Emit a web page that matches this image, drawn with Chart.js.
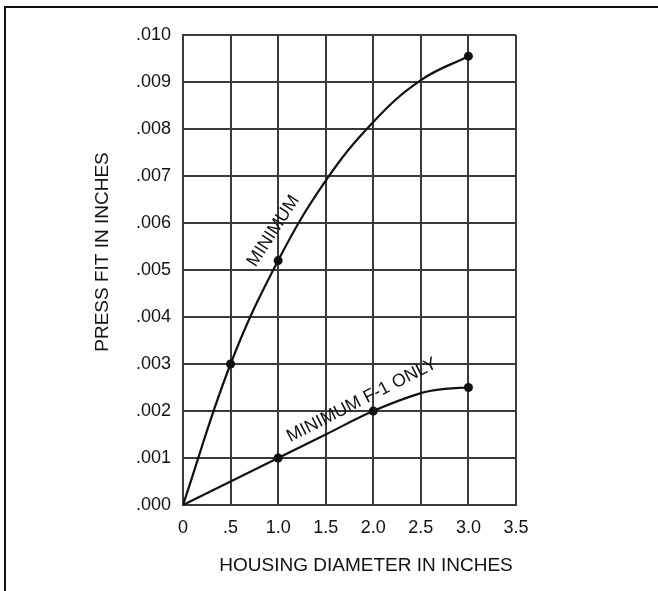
<!DOCTYPE html>
<html>
<head>
<meta charset="utf-8">
<script src="https://cdn.jsdelivr.net/npm/chart.js@4"></script>
<style>
  html, body { margin: 0; padding: 0; background: #fff; }
  #wrap { position: relative; width: 658px; height: 591px; }
  #frame { position: absolute; left: 4px; top: 6px; right: 0; bottom: 0;
           border-left: 2px solid #111; border-top: 2px solid #111; pointer-events: none; }
  canvas { position: absolute; left: 0; top: 0; }
</style>
</head>
<body>
<div id="wrap">
  <canvas id="pressFit" width="658" height="591"></canvas>
  <div id="frame"></div>
</div>
<script>
// tick labels, kept as in the drawing
const xTickValues = [0, 0.5, 1.0, 1.5, 2.0, 2.5, 3.0, 3.5];
const xTickLabels = ['0', '.5', '1.0', '1.5', '2.0', '2.5', '3.0', '3.5'];
const yTickValues = [0, 0.001, 0.002, 0.003, 0.004, 0.005, 0.006, 0.007, 0.008, 0.009, 0.010];
const yTickLabels = ['.000', '.001', '.002', '.003', '.004', '.005', '.006', '.007', '.008', '.009', '.010'];

// "MINIMUM" curve
const minimumX = [0, 0.5, 1.0, 1.5, 2.0, 2.5, 3.0];
const minimumY = [0, 0.003, 0.0052, 0.0069, 0.00815, 0.00904, 0.00955];
const minimumDotX = [0.5, 1.0, 3.0];
const minimumDotY = [0.003, 0.0052, 0.00955];

// "MINIMUM F-1 ONLY" curve
const f1OnlyX = [0, 0.5, 1.0, 1.5, 2.0, 2.5, 2.75, 3.0];
const f1OnlyY = [0, 0.0005, 0.001, 0.0015, 0.002, 0.00238, 0.00247, 0.0025];
const f1OnlyDotX = [1.0, 2.0, 3.0];
const f1OnlyDotY = [0.001, 0.002, 0.0025];

const ink = '#111';
const gridInk = '#3a3a3a';
const fontFamily = "'Liberation Sans', Arial, sans-serif";

function pts(xs, ys) {
    return xs.map((x, i) => ({ x: x, y: ys[i] }));
}

function curve(xs, ys) {
    return {
        data: pts(xs, ys),
        showLine: true,
        borderColor: ink,
        borderWidth: 2.2,
        pointRadius: 0,
        tension: 0.4,
        fill: false
    };
}

function dots(xs, ys) {
    return {
        data: pts(xs, ys),
        showLine: false,
        pointRadius: 4.5,
        pointBackgroundColor: ink,
        pointBorderColor: ink,
        pointBorderWidth: 0
    };
}

// titles and the labels written along the curves
const textPlugin = {
    id: 'textPlugin',
    afterDatasetsDraw(chart) {
        const ctx = chart.ctx;
        const xs = chart.scales.x, ys = chart.scales.y;
        ctx.save();
        ctx.fillStyle = ink;
        ctx.textAlign = 'center';
        ctx.textBaseline = 'middle';

        ctx.font = '19px ' + fontFamily;
        ctx.fillText('HOUSING DIAMETER IN INCHES', 366, 566);

        ctx.save();
        ctx.translate(103, 252);
        ctx.rotate(-Math.PI / 2);
        ctx.fillText('PRESS FIT IN INCHES', 0, 0);
        ctx.restore();

        ctx.font = '18px ' + fontFamily;
        ctx.save();
        ctx.translate(xs.getPixelForValue(0.95), ys.getPixelForValue(0.00583));
        ctx.rotate(-57 * Math.PI / 180);
        ctx.fillText('MINIMUM', 0, 0);
        ctx.restore();

        ctx.save();
        ctx.translate(xs.getPixelForValue(1.88), ys.getPixelForValue(0.00223));
        ctx.rotate(-27 * Math.PI / 180);
        ctx.fillText('MINIMUM F-1 ONLY', 0, 0);
        ctx.restore();

        ctx.restore();
    }
};

new Chart(document.getElementById('pressFit'), {
    type: 'scatter',
    data: {
        datasets: [
            curve(minimumX, minimumY),
            curve(f1OnlyX, f1OnlyY),
            dots(minimumDotX, minimumDotY),
            dots(f1OnlyDotX, f1OnlyDotY)
        ]
    },
    options: {
        responsive: false,
        animation: false,
        events: [],
        layout: { padding: { left: 0, top: 35, right: 142, bottom: 0 } },
        plugins: { legend: { display: false }, tooltip: { enabled: false } },
        scales: {
            x: {
                type: 'linear',
                min: 0,
                max: 3.5,
                afterBuildTicks: s => { s.ticks = xTickValues.map(v => ({ value: v })); },
                afterFit: s => { s.height = 86; },
                grid: { color: gridInk, lineWidth: 2, drawTicks: false },
                border: { color: gridInk, width: 2 },
                ticks: {
                    padding: 12,
                    color: ink,
                    maxRotation: 0,
                    font: { family: fontFamily, size: 18 },
                    callback: (v, i) => xTickLabels[i]
                }
            },
            y: {
                type: 'linear',
                min: 0,
                max: 0.010,
                afterBuildTicks: s => { s.ticks = yTickValues.map(v => ({ value: v })); },
                afterFit: s => { s.width = 183; },
                grid: { color: gridInk, lineWidth: 2, drawTicks: false },
                border: { color: gridInk, width: 2 },
                ticks: {
                    padding: 12,
                    color: ink,
                    font: { family: fontFamily, size: 18 },
                    callback: (v, i) => yTickLabels[i]
                }
            }
        }
    },
    plugins: [textPlugin]
});
</script>
</body>
</html>
